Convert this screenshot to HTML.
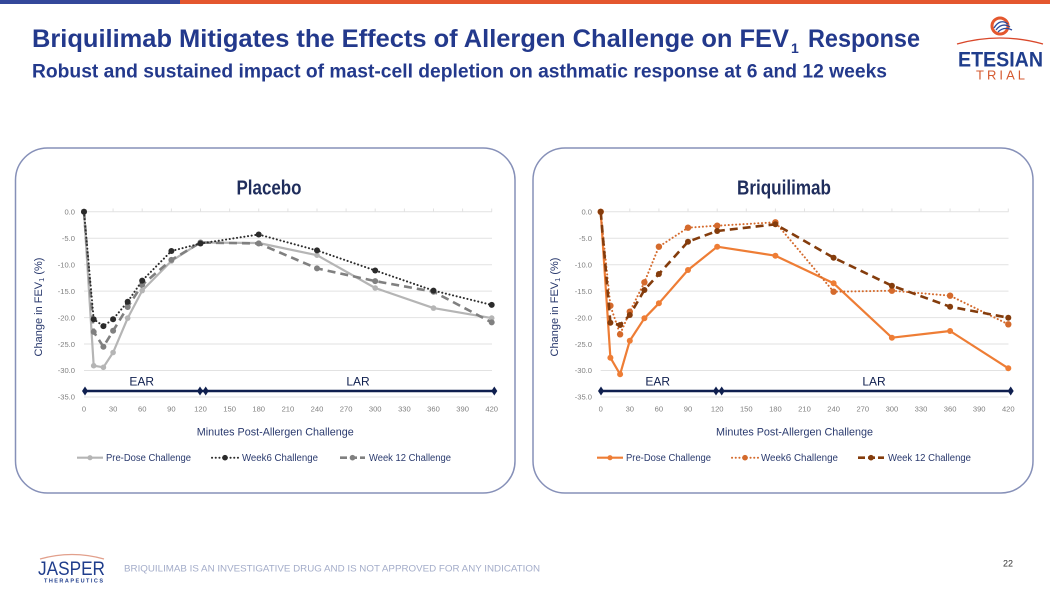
<!DOCTYPE html>
<html><head><meta charset="utf-8"><style>
html,body{margin:0;padding:0;background:#fff;}
svg{display:block;}
text{font-family:"Liberation Sans",Arial,sans-serif;}
</style></head><body>
<svg width="1050" height="592" viewBox="0 0 1050 592" xmlns="http://www.w3.org/2000/svg">
<rect width="1050" height="592" fill="#fff"/>
<!-- top bar -->
<rect x="0" y="0" width="180" height="4" fill="#34489a"/>
<rect x="180" y="0" width="870" height="4" fill="#e4572e"/>

<!-- titles -->
<text x="32" y="47" font-size="25" font-weight="bold" fill="#23398c" textLength="757" lengthAdjust="spacingAndGlyphs">Briquilimab Mitigates the Effects of Allergen Challenge on FEV</text>
<text x="791" y="53" font-size="14" font-weight="bold" fill="#23398c">1</text>
<text x="808" y="47" font-size="25" font-weight="bold" fill="#23398c" textLength="112" lengthAdjust="spacingAndGlyphs">Response</text>
<text x="32" y="77.5" font-size="19" font-weight="bold" fill="#23398c" textLength="855" lengthAdjust="spacingAndGlyphs">Robust and sustained impact of mast-cell depletion on asthmatic response at 6 and 12 weeks</text>

<!-- Etesian logo -->
<circle cx="1000" cy="26" r="8" fill="none" stroke="#e4572e" stroke-width="3"/>
<path d="M994 28 q6 -10 14 -4 M996 30 q6 -8 14 -3 M998 32 q6 -6 14 -2" fill="none" stroke="#2c4a9a" stroke-width="1.3"/>
<path d="M957 44 Q1000 32 1043 44" fill="none" stroke="#d9482b" stroke-width="1.3"/>
<text x="958" y="66.5" font-size="21" font-weight="bold" fill="#1f3d8c" textLength="85" lengthAdjust="spacingAndGlyphs">ETESIAN</text>
<text x="976" y="79.5" font-size="13" fill="#d55a30" textLength="49" lengthAdjust="spacing">TRIAL</text>

<!-- panels -->
<rect x="15.5" y="148" width="499.5" height="345" rx="32" ry="32" fill="#fff" stroke="#8690b8" stroke-width="1.5"/>
<rect x="533" y="148" width="500" height="345" rx="32" ry="32" fill="#fff" stroke="#8690b8" stroke-width="1.5"/>

<!-- ================= LEFT CHART ================= -->
<text x="269" y="194.3" font-size="20" font-weight="bold" fill="#1f2d5c" text-anchor="middle" textLength="65" lengthAdjust="spacingAndGlyphs">Placebo</text>
<g stroke="#e2e2e2" stroke-width="1">
<line x1="84" y1="211.8" x2="492" y2="211.8"/>
<line x1="84" y1="238.25" x2="492" y2="238.25"/>
<line x1="84" y1="264.7" x2="492" y2="264.7"/>
<line x1="84" y1="291.15" x2="492" y2="291.15"/>
<line x1="84" y1="317.6" x2="492" y2="317.6"/>
<line x1="84" y1="344.05" x2="492" y2="344.05"/>
<line x1="84" y1="370.5" x2="492" y2="370.5"/>
<line x1="84" y1="396.95" x2="492" y2="396.95"/>
</g>
<g stroke="#e2e2e2" stroke-width="1">
<line x1="113.1" y1="208.5" x2="113.1" y2="211.8"/><line x1="142.2" y1="208.5" x2="142.2" y2="211.8"/><line x1="171.4" y1="208.5" x2="171.4" y2="211.8"/><line x1="200.5" y1="208.5" x2="200.5" y2="211.8"/><line x1="229.6" y1="208.5" x2="229.6" y2="211.8"/><line x1="258.7" y1="208.5" x2="258.7" y2="211.8"/><line x1="287.9" y1="208.5" x2="287.9" y2="211.8"/><line x1="317" y1="208.5" x2="317" y2="211.8"/><line x1="346.1" y1="208.5" x2="346.1" y2="211.8"/><line x1="375.2" y1="208.5" x2="375.2" y2="211.8"/><line x1="404.4" y1="208.5" x2="404.4" y2="211.8"/><line x1="433.5" y1="208.5" x2="433.5" y2="211.8"/><line x1="462.6" y1="208.5" x2="462.6" y2="211.8"/><line x1="491.7" y1="208.5" x2="491.7" y2="211.8"/>
</g>
<g font-size="7.6" fill="#808080" text-anchor="end">
<text x="75" y="214.5">0.0</text>
<text x="75" y="241">-5.0</text>
<text x="75" y="267.4">-10.0</text>
<text x="75" y="293.9">-15.0</text>
<text x="75" y="320.3">-20.0</text>
<text x="75" y="346.8">-25.0</text>
<text x="75" y="373.2">-30.0</text>
<text x="75" y="399.7">-35.0</text>
</g>
<g font-size="7.6" fill="#808080" text-anchor="middle">
<text x="84" y="411.5">0</text><text x="113.1" y="411.5">30</text><text x="142.2" y="411.5">60</text><text x="171.4" y="411.5">90</text><text x="200.5" y="411.5">120</text><text x="229.6" y="411.5">150</text><text x="258.7" y="411.5">180</text><text x="287.9" y="411.5">210</text><text x="317" y="411.5">240</text><text x="346.1" y="411.5">270</text><text x="375.2" y="411.5">300</text><text x="404.4" y="411.5">330</text><text x="433.5" y="411.5">360</text><text x="462.6" y="411.5">390</text><text x="491.7" y="411.5">420</text>
</g>
<text transform="translate(42,307) rotate(-90)" font-size="11" fill="#2a3a6e" text-anchor="middle">Change in FEV<tspan font-size="7.5" dy="2">1</tspan><tspan dy="-2"> (%)</tspan></text>
<text x="275.3" y="435.7" font-size="11.2" fill="#2a3a6e" text-anchor="middle" textLength="157" lengthAdjust="spacingAndGlyphs">Minutes Post-Allergen Challenge</text>

<!-- EAR/LAR bar left -->
<line x1="85" y1="391" x2="494.3" y2="391" stroke="#0f1f4f" stroke-width="2.5"/>
<g fill="#0f1f4f">
<polygon points="85,386.5 88,391 85,395.5 82,391"/>
<polygon points="200,386.5 203,391 200,395.5 197,391"/>
<polygon points="205.7,386.5 208.7,391 205.7,395.5 202.7,391"/>
<polygon points="494.3,386.5 497.3,391 494.3,395.5 491.3,391"/>
</g>
<text x="141.7" y="385.7" font-size="12" fill="#0f1f4f" text-anchor="middle">EAR</text>
<text x="358" y="385.7" font-size="12" fill="#0f1f4f" text-anchor="middle">LAR</text>

<!-- series left -->
<polyline fill="none" stroke="#b5b5b5" stroke-width="2.2" stroke-linejoin="round" points="84,211.8 93.7,365.7 103.4,367.3 113.1,352.5 127.7,318.1 142.2,290.6 171.4,261 200.5,242.5 258.7,243 317,255.2 375.2,288 433.5,308.1 491.7,318.1"/>
<g fill="#b5b5b5"><circle cx="84" cy="211.8" r="2.8"/><circle cx="93.7" cy="365.7" r="2.8"/><circle cx="103.4" cy="367.3" r="2.8"/><circle cx="113.1" cy="352.5" r="2.8"/><circle cx="127.7" cy="318.1" r="2.8"/><circle cx="142.2" cy="290.6" r="2.8"/><circle cx="171.4" cy="261" r="2.8"/><circle cx="200.5" cy="242.5" r="2.8"/><circle cx="258.7" cy="243" r="2.8"/><circle cx="317" cy="255.2" r="2.8"/><circle cx="375.2" cy="288" r="2.8"/><circle cx="433.5" cy="308.1" r="2.8"/><circle cx="491.7" cy="318.1" r="2.8"/></g>

<polyline fill="none" stroke="#808080" stroke-width="2.6" stroke-dasharray="8 5" stroke-linejoin="round" points="84,211.8 93.7,331.9 103.4,346.7 113.1,330.8 127.7,307 142.2,284.8 171.4,259.9 200.5,242.5 258.7,243.5 317,268.4 375.2,281.1 433.5,291.7 491.7,322.4"/>
<g fill="#808080"><circle cx="84" cy="211.8" r="3"/><circle cx="93.7" cy="331.9" r="3"/><circle cx="103.4" cy="346.7" r="3"/><circle cx="113.1" cy="330.8" r="3"/><circle cx="127.7" cy="307" r="3"/><circle cx="142.2" cy="284.8" r="3"/><circle cx="171.4" cy="259.9" r="3"/><circle cx="200.5" cy="242.5" r="3"/><circle cx="258.7" cy="243.5" r="3"/><circle cx="317" cy="268.4" r="3"/><circle cx="375.2" cy="281.1" r="3"/><circle cx="433.5" cy="291.7" r="3"/><circle cx="491.7" cy="322.4" r="3"/></g>

<polyline fill="none" stroke="#2b2b2b" stroke-width="2" stroke-dasharray="0.1 3.6" stroke-linecap="round" stroke-linejoin="round" points="84,211.8 93.7,319.2 103.4,326.1 113.1,319.2 127.7,301.7 142.2,280.6 171.4,251 200.5,243.5 258.7,234.5 317,250.4 375.2,270.5 433.5,290.6 491.7,304.9"/>
<g fill="#2b2b2b"><circle cx="84" cy="211.8" r="3"/><circle cx="93.7" cy="319.2" r="3"/><circle cx="103.4" cy="326.1" r="3"/><circle cx="113.1" cy="319.2" r="3"/><circle cx="127.7" cy="301.7" r="3"/><circle cx="142.2" cy="280.6" r="3"/><circle cx="171.4" cy="251" r="3"/><circle cx="200.5" cy="243.5" r="3"/><circle cx="258.7" cy="234.5" r="3"/><circle cx="317" cy="250.4" r="3"/><circle cx="375.2" cy="270.5" r="3"/><circle cx="433.5" cy="290.6" r="3"/><circle cx="491.7" cy="304.9" r="3"/></g>

<!-- legend left -->
<line x1="77" y1="457.7" x2="103" y2="457.7" stroke="#b5b5b5" stroke-width="2.2"/><circle cx="90" cy="457.7" r="2.6" fill="#b5b5b5"/>
<text x="106" y="461.2" font-size="10" fill="#2a3a6e" textLength="85" lengthAdjust="spacingAndGlyphs">Pre-Dose Challenge</text>
<line x1="212" y1="457.7" x2="238" y2="457.7" stroke="#2b2b2b" stroke-width="2" stroke-dasharray="0.1 3.6" stroke-linecap="round"/><circle cx="225" cy="457.7" r="2.8" fill="#2b2b2b"/>
<text x="242" y="461.2" font-size="10" fill="#2a3a6e" textLength="76" lengthAdjust="spacingAndGlyphs">Week6 Challenge</text>
<line x1="340" y1="457.7" x2="365" y2="457.7" stroke="#808080" stroke-width="2.6" stroke-dasharray="7 3"/><circle cx="352.5" cy="457.7" r="2.8" fill="#808080"/>
<text x="369" y="461.2" font-size="10" fill="#2a3a6e" textLength="82" lengthAdjust="spacingAndGlyphs">Week 12 Challenge</text>

<!-- ================= RIGHT CHART ================= -->
<text x="784" y="194.3" font-size="20" font-weight="bold" fill="#1f2d5c" text-anchor="middle" textLength="94" lengthAdjust="spacingAndGlyphs">Briquilimab</text>
<g stroke="#e2e2e2" stroke-width="1">
<line x1="600.7" y1="211.8" x2="1008.5" y2="211.8"/>
<line x1="600.7" y1="238.25" x2="1008.5" y2="238.25"/>
<line x1="600.7" y1="264.7" x2="1008.5" y2="264.7"/>
<line x1="600.7" y1="291.15" x2="1008.5" y2="291.15"/>
<line x1="600.7" y1="317.6" x2="1008.5" y2="317.6"/>
<line x1="600.7" y1="344.05" x2="1008.5" y2="344.05"/>
<line x1="600.7" y1="370.5" x2="1008.5" y2="370.5"/>
<line x1="600.7" y1="396.95" x2="1008.5" y2="396.95"/>
</g>
<g stroke="#e2e2e2" stroke-width="1">
<line x1="629.8" y1="208.5" x2="629.8" y2="211.8"/><line x1="658.9" y1="208.5" x2="658.9" y2="211.8"/><line x1="688" y1="208.5" x2="688" y2="211.8"/><line x1="717.2" y1="208.5" x2="717.2" y2="211.8"/><line x1="746.3" y1="208.5" x2="746.3" y2="211.8"/><line x1="775.4" y1="208.5" x2="775.4" y2="211.8"/><line x1="804.5" y1="208.5" x2="804.5" y2="211.8"/><line x1="833.6" y1="208.5" x2="833.6" y2="211.8"/><line x1="862.8" y1="208.5" x2="862.8" y2="211.8"/><line x1="891.9" y1="208.5" x2="891.9" y2="211.8"/><line x1="921" y1="208.5" x2="921" y2="211.8"/><line x1="950.1" y1="208.5" x2="950.1" y2="211.8"/><line x1="979.2" y1="208.5" x2="979.2" y2="211.8"/><line x1="1008.3" y1="208.5" x2="1008.3" y2="211.8"/>
</g>
<g font-size="7.6" fill="#808080" text-anchor="end">
<text x="592" y="214.5">0.0</text>
<text x="592" y="241">-5.0</text>
<text x="592" y="267.4">-10.0</text>
<text x="592" y="293.9">-15.0</text>
<text x="592" y="320.3">-20.0</text>
<text x="592" y="346.8">-25.0</text>
<text x="592" y="373.2">-30.0</text>
<text x="592" y="399.7">-35.0</text>
</g>
<g font-size="7.6" fill="#808080" text-anchor="middle">
<text x="600.7" y="411.5">0</text><text x="629.8" y="411.5">30</text><text x="658.9" y="411.5">60</text><text x="688" y="411.5">90</text><text x="717.2" y="411.5">120</text><text x="746.3" y="411.5">150</text><text x="775.4" y="411.5">180</text><text x="804.5" y="411.5">210</text><text x="833.6" y="411.5">240</text><text x="862.8" y="411.5">270</text><text x="891.9" y="411.5">300</text><text x="921" y="411.5">330</text><text x="950.1" y="411.5">360</text><text x="979.2" y="411.5">390</text><text x="1008.3" y="411.5">420</text>
</g>
<text transform="translate(558,307) rotate(-90)" font-size="11" fill="#2a3a6e" text-anchor="middle">Change in FEV<tspan font-size="7.5" dy="2">1</tspan><tspan dy="-2"> (%)</tspan></text>
<text x="794.5" y="435.7" font-size="11.2" fill="#2a3a6e" text-anchor="middle" textLength="157" lengthAdjust="spacingAndGlyphs">Minutes Post-Allergen Challenge</text>

<!-- EAR/LAR bar right -->
<line x1="601" y1="391" x2="1010.7" y2="391" stroke="#0f1f4f" stroke-width="2.5"/>
<g fill="#0f1f4f">
<polygon points="601,386.5 604,391 601,395.5 598,391"/>
<polygon points="716,386.5 719,391 716,395.5 713,391"/>
<polygon points="721.7,386.5 724.7,391 721.7,395.5 718.7,391"/>
<polygon points="1010.7,386.5 1013.7,391 1010.7,395.5 1007.7,391"/>
</g>
<text x="657.7" y="385.7" font-size="12" fill="#0f1f4f" text-anchor="middle">EAR</text>
<text x="874" y="385.7" font-size="12" fill="#0f1f4f" text-anchor="middle">LAR</text>

<!-- series right -->
<polyline fill="none" stroke="#ee7d35" stroke-width="2.2" stroke-linejoin="round" points="600.7,211.8 610.4,357.7 620.1,374.3 629.8,340.7 644.4,318.3 658.9,303.3 688,270 717.2,246.7 775.4,255.7 833.6,283.3 891.9,337.7 950.1,331 1008.3,368.3"/>
<g fill="#ee7d35"><circle cx="600.7" cy="211.8" r="3"/><circle cx="610.4" cy="357.7" r="3"/><circle cx="620.1" cy="374.3" r="3"/><circle cx="629.8" cy="340.7" r="3"/><circle cx="644.4" cy="318.3" r="3"/><circle cx="658.9" cy="303.3" r="3"/><circle cx="688" cy="270" r="3"/><circle cx="717.2" cy="246.7" r="3"/><circle cx="775.4" cy="255.7" r="3"/><circle cx="833.6" cy="283.3" r="3"/><circle cx="891.9" cy="337.7" r="3"/><circle cx="950.1" cy="331" r="3"/><circle cx="1008.3" cy="368.3" r="3"/></g>

<polyline fill="none" stroke="#d46a2c" stroke-width="2" stroke-dasharray="0.1 3.6" stroke-linecap="round" stroke-linejoin="round" points="600.7,211.8 610.4,305.7 620.1,334.3 629.8,311.7 644.4,282.3 658.9,246.7 688,227.7 717.2,225.7 775.4,222.3 833.6,291.7 891.9,290.7 950.1,295.7 1008.3,324.3"/>
<g fill="#d46a2c"><circle cx="600.7" cy="211.8" r="3.2"/><circle cx="610.4" cy="305.7" r="3.2"/><circle cx="620.1" cy="334.3" r="3.2"/><circle cx="629.8" cy="311.7" r="3.2"/><circle cx="644.4" cy="282.3" r="3.2"/><circle cx="658.9" cy="246.7" r="3.2"/><circle cx="688" cy="227.7" r="3.2"/><circle cx="717.2" cy="225.7" r="3.2"/><circle cx="775.4" cy="222.3" r="3.2"/><circle cx="833.6" cy="291.7" r="3.2"/><circle cx="891.9" cy="290.7" r="3.2"/><circle cx="950.1" cy="295.7" r="3.2"/><circle cx="1008.3" cy="324.3" r="3.2"/></g>

<polyline fill="none" stroke="#843c0c" stroke-width="2.6" stroke-dasharray="8 5" stroke-linejoin="round" points="600.7,211.8 610.4,322.7 620.1,325 629.8,315 644.4,290 658.9,274 688,241.7 717.2,231 775.4,224.3 833.6,257.7 891.9,285.7 950.1,306.7 1008.3,317.7"/>
<g fill="#843c0c"><circle cx="600.7" cy="211.8" r="3"/><circle cx="610.4" cy="322.7" r="3"/><circle cx="620.1" cy="325" r="3"/><circle cx="629.8" cy="315" r="3"/><circle cx="644.4" cy="290" r="3"/><circle cx="658.9" cy="274" r="3"/><circle cx="688" cy="241.7" r="3"/><circle cx="717.2" cy="231" r="3"/><circle cx="775.4" cy="224.3" r="3"/><circle cx="833.6" cy="257.7" r="3"/><circle cx="891.9" cy="285.7" r="3"/><circle cx="950.1" cy="306.7" r="3"/><circle cx="1008.3" cy="317.7" r="3"/></g>

<!-- legend right -->
<line x1="597" y1="457.7" x2="623" y2="457.7" stroke="#ee7d35" stroke-width="2.2"/><circle cx="610" cy="457.7" r="2.6" fill="#ee7d35"/>
<text x="626" y="461.2" font-size="10" fill="#2a3a6e" textLength="85" lengthAdjust="spacingAndGlyphs">Pre-Dose Challenge</text>
<line x1="732" y1="457.7" x2="758" y2="457.7" stroke="#d46a2c" stroke-width="2" stroke-dasharray="0.1 3.6" stroke-linecap="round"/><circle cx="745" cy="457.7" r="2.8" fill="#d46a2c"/>
<text x="761" y="461.2" font-size="10" fill="#2a3a6e" textLength="77" lengthAdjust="spacingAndGlyphs">Week6 Challenge</text>
<line x1="858" y1="457.7" x2="884" y2="457.7" stroke="#843c0c" stroke-width="2.6" stroke-dasharray="7 3"/><circle cx="871" cy="457.7" r="2.8" fill="#843c0c"/>
<text x="888" y="461.2" font-size="10" fill="#2a3a6e" textLength="83" lengthAdjust="spacingAndGlyphs">Week 12 Challenge</text>

<!-- footer -->
<path d="M40 559 Q72 550 104 559" fill="none" stroke="#e2a08c" stroke-width="1.2"/>
<text x="38" y="575" font-size="19" fill="#1f3d8c" textLength="67" lengthAdjust="spacingAndGlyphs">JASPER</text>
<text x="44" y="582.5" font-size="5.5" font-weight="bold" fill="#1f3d8c" textLength="59" lengthAdjust="spacing">THERAPEUTICS</text>
<text x="124" y="571.5" font-size="9.5" fill="#a3acc9" textLength="416" lengthAdjust="spacingAndGlyphs">BRIQUILIMAB IS AN INVESTIGATIVE DRUG AND IS NOT APPROVED FOR ANY INDICATION</text>
<text x="1013" y="566.5" font-size="9" fill="#333" text-anchor="end">22</text>
</svg>
</body></html>
